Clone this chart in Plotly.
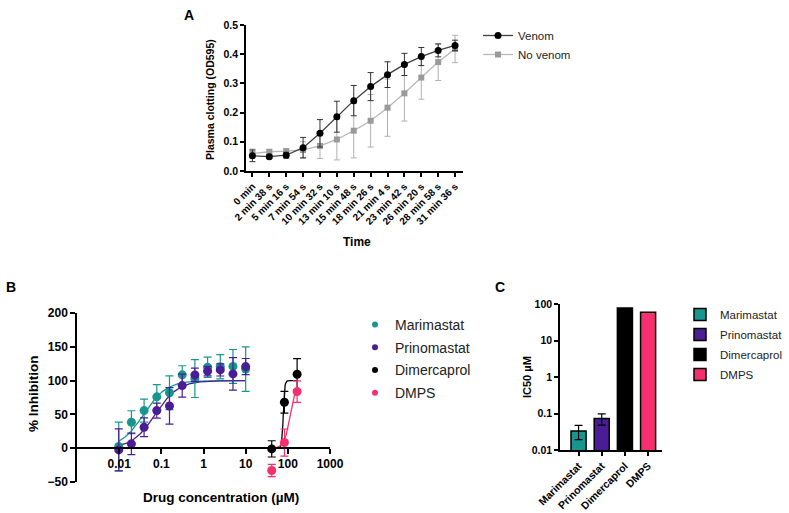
import numpy as np
import plotly.graph_objects as go

# ---------------- Data ----------------
# Panel A
time_labels = ["0 min", "2 min 38 s", "5 min 16 s", "7 min 54 s", "10 min 32 s",
               "13 min 10 s", "15 min 48 s", "18 min 26 s", "21 min 4 s",
               "23 min 42 s", "26 min 20 s", "28 min 58 s", "31 min 36 s"]
venom_mean = [0.052, 0.049, 0.054, 0.080, 0.129, 0.186, 0.241, 0.289, 0.330,
              0.365, 0.392, 0.413, 0.430]
venom_err = [0.020, 0.006, 0.010, 0.035, 0.047, 0.053, 0.052, 0.048, 0.044,
             0.038, 0.031, 0.022, 0.018]
novenom_mean = [0.060, 0.066, 0.068, 0.072, 0.086, 0.108, 0.138, 0.172, 0.217,
                0.266, 0.320, 0.373, 0.418]
novenom_err = [0.015, 0.006, 0.008, 0.028, 0.043, 0.070, 0.093, 0.090, 0.098,
               0.095, 0.074, 0.063, 0.047]

# Panel B
conc_mmp = [0.00977, 0.0195, 0.039, 0.078, 0.156, 0.3125, 0.625, 1.25, 2.5, 5, 10]
mari_mean = [2.5, 38.4, 55.6, 76.0, 82.0, 108.5, 103.0, 119.7, 120.5, 121.0, 117.0]
mari_err = [36, 17, 17, 18, 25, 13.5, 28, 15, 18, 25, 33]
prino_mean = [-2.5, 6.4, 31.0, 55.6, 62.5, 92.6, 108.4, 114.0, 115.8, 109.9, 120.7]
prino_err = [31, 16, 14, 11, 27, 17, 10, 7, 9, 24, 12]
conc_chel = [41.5, 83, 166]
dimer_mean = [-1.0, 68.0, 109.4]
dimer_err = [12, 16, 23]
dmps_mean = [-33.0, 8.4, 83.7]
dmps_err = [9, 20, 16]

# fitted dose-response parameters (IC50, Hill slope) for the curves in B
fit_ic50 = [0.038, 0.072, 78.0, 115.0]
fit_hill = [1.6, 1.6, 25.0, 6.0]

# Panel C
drugs = ["Marimastat", "Prinomastat", "Dimercaprol", "DMPS"]
ic50 = [0.0333, 0.073, 77.5, 59.0]
ic50_err = [0.014, 0.025, 0, 0]

colors = ["#17968f", "#4a1d95", "#000000", "#f5306f"]

W, H = 789, 513
def px(x):
    return x / W
def py(y):
    return 1 - y / H

FONT = "Liberation Sans, Arial, sans-serif"

fig = go.Figure()

# ---------------- Panel A ----------------
fig.add_trace(go.Scatter(
    x=time_labels, y=novenom_mean, name="No venom", mode="lines+markers",
    line=dict(color="#b8b8b8", width=1.3),
    marker=dict(symbol="square", size=6, color="#9a9a9a"),
    error_y=dict(type="data", array=novenom_err, color="#b0b0b0", thickness=1, width=3),
    xaxis="x", yaxis="y", legend="legend", legendrank=2))
fig.add_trace(go.Scatter(
    x=time_labels, y=venom_mean, name="Venom", mode="lines+markers",
    line=dict(color="#404040", width=1.3),
    marker=dict(symbol="circle", size=7, color="#000000"),
    error_y=dict(type="data", array=venom_err, color="#333333", thickness=1, width=3),
    xaxis="x", yaxis="y", legend="legend", legendrank=1))

# ---------------- Panel B ----------------
curve_ranges = [(conc_mmp[0], conc_mmp[-1]), (conc_mmp[0], conc_mmp[-1]),
                (conc_mmp[0], conc_chel[-1]), (conc_mmp[0], conc_chel[-1])]
for i in range(4):
    lo, hi = curve_ranges[i]
    xc = np.logspace(np.log10(lo), np.log10(hi), 400)
    yc = 100.0 / (1.0 + (fit_ic50[i] / xc) ** fit_hill[i])
    fig.add_trace(go.Scatter(x=xc, y=yc, mode="lines", showlegend=False,
                             line=dict(color=colors[i], width=1.3),
                             hoverinfo="skip", xaxis="x2", yaxis="y2"))

b_sets = [(conc_mmp, mari_mean, mari_err), (conc_mmp, prino_mean, prino_err),
          (conc_chel, dimer_mean, dimer_err), (conc_chel, dmps_mean, dmps_err)]
for i, (xs, ys, es) in enumerate(b_sets):
    fig.add_trace(go.Scatter(
        x=xs, y=ys, mode="markers", name=drugs[i], showlegend=False,
        marker=dict(color=colors[i], size=9),
        error_y=dict(type="data", array=es, color=colors[i], thickness=1.2, width=4),
        xaxis="x2", yaxis="y2"))
    # legend entry with the smaller legend symbol
    fig.add_trace(go.Scatter(
        x=[None], y=[None], mode="markers", name=drugs[i],
        marker=dict(color=colors[i], size=6), legendgroup="b%d" % i,
        xaxis="x2", yaxis="y2", legend="legend2"))

# ---------------- Panel C ----------------
for i in range(4):
    err = dict(type="data", array=[ic50_err[i]], color="#000000", thickness=1.2, width=4,
               visible=ic50_err[i] > 0)
    fig.add_trace(go.Bar(
        x=[drugs[i]], y=[ic50[i]], name=drugs[i], width=0.65, legendgroup="c%d" % i,
        marker=dict(color=colors[i], line=dict(color="#000000", width=1.5)),
        error_y=err, xaxis="x3", yaxis="y3", legend="legend3"))

axis_common = dict(showline=True, linecolor="#000000", linewidth=1.5, ticks="outside",
                   tickcolor="#000000", tickwidth=1.5, showgrid=False, zeroline=False,
                   mirror=False, automargin=False)

fig.update_layout(
    width=W, height=H, margin=dict(l=0, r=0, t=0, b=0, autoexpand=False),
    paper_bgcolor="white", plot_bgcolor="white",
    font=dict(family=FONT, color="#000000"),
    barmode="overlay",
    xaxis=dict(domain=[px(246), px(463)], anchor="y", type="category",
               range=[-0.38, 12.47], tickangle=-45, ticklen=4,
               tickfont=dict(size=10, weight="bold"), **axis_common),
    yaxis=dict(domain=[py(171), py(25)], anchor="x", range=[0, 0.5], dtick=0.1,
               tickformat=".1f", ticklen=4, tickfont=dict(size=10.5, weight="bold"),
               **axis_common),
    xaxis2=dict(domain=[px(77), px(330)], anchor="free", position=py(448), type="log",
                range=[-3, 3], tickvals=[0.01, 0.1, 1, 10, 100, 1000],
                ticktext=["0.01", "0.1", "1", "10", "100", "1000"], ticklen=5,
                tickfont=dict(size=12, weight="bold"), **axis_common),
    yaxis2=dict(domain=[py(482), py(313)], anchor="x2", range=[-50, 200], dtick=50,
                ticklen=5, tickfont=dict(size=12, weight="bold"), **axis_common),
    xaxis3=dict(domain=[px(560), px(662)], anchor="y3", type="category",
                range=[-0.8, 3.6], tickangle=-45, ticklen=4,
                tickfont=dict(size=10.5, weight="bold"), **axis_common),
    yaxis3=dict(domain=[py(450), py(304)], anchor="x3", type="log", range=[-2, 2],
                tickvals=[0.01, 0.1, 1, 10, 100], ticktext=["0.01", "0.1", "1", "10", "100"],
                ticklen=4, tickfont=dict(size=10.5, weight="bold"), **axis_common),
    legend=dict(x=px(478), y=py(21), xanchor="left", yanchor="top",
                font=dict(size=11.5, color="#222222"), bgcolor="rgba(0,0,0,0)"),
    legend2=dict(x=px(355), y=py(309), xanchor="left", yanchor="top",
                 tracegroupgap=1.5,
                 font=dict(size=14, color="#222222"), bgcolor="rgba(0,0,0,0)"),
    legend3=dict(x=px(680), y=py(300), xanchor="left", yanchor="top",
                 tracegroupgap=1,
                 font=dict(size=11.5, color="#222222"), bgcolor="rgba(0,0,0,0)"),
)

ann = [
    dict(text="<b>A</b>", x=px(189), y=py(15), font=dict(size=14)),
    dict(text="<b>B</b>", x=px(11), y=py(287), font=dict(size=14)),
    dict(text="<b>C</b>", x=px(500), y=py(287), font=dict(size=14)),
    dict(text="<b>Plasma clotting (OD595)</b>", x=px(210), y=py(100), textangle=-90,
         font=dict(size=10.5)),
    dict(text="<b>Time</b>", x=px(357), y=py(242), font=dict(size=12)),
    dict(text="<b>% Inhibition</b>", x=px(33), y=py(394), textangle=-90,
         font=dict(size=13.5)),
    dict(text="<b>Drug concentration (µM)</b>", x=px(221), y=py(497),
         font=dict(size=13.5)),
    dict(text="<b>IC50 µM</b>", x=px(527), y=py(377), textangle=-90,
         font=dict(size=11)),
]
for a in ann:
    a.update(xref="paper", yref="paper", showarrow=False, xanchor="center",
             yanchor="middle")
    fig.add_annotation(**a)

fig.write_html("out.html", config={"displayModeBar": False},
               post_script="document.body.style.margin='0';document.body.style.overflow='hidden';")
